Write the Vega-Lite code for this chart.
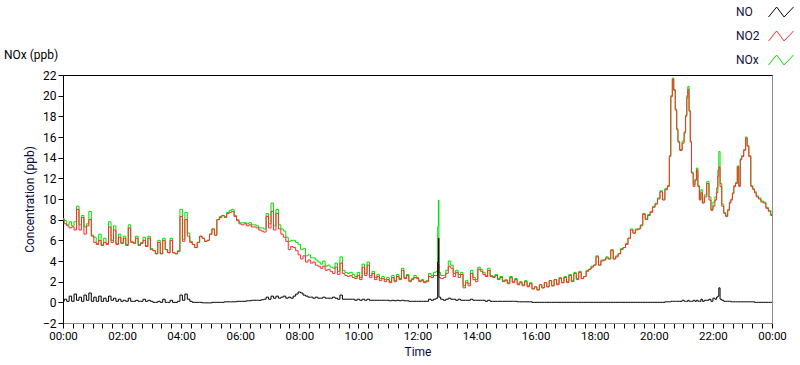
{
"$schema":"https://vega.github.io/schema/vega-lite/v6.json",
"width":709,"height":248,
"autosize":{"type":"none"},
"padding":{"left":63,"top":75,"right":28,"bottom":42},
"background":"white",
"title":{"text":"NOx (ppb)","anchor":"start","frame":"group","dx":-59,"dy":72,"offset":0,"fontSize":12,"fontWeight":"normal","color":"#000","baseline":"alphabetic"},
"data":{"values":[
{"m":0,"NO":0.1,"NO2":8.0,"NOx":8.1},{"m":5,"NO":0.3,"NO2":7.6,"NOx":7.9},{"m":10,"NO":0.1,"NO2":7.4,"NOx":7.5},{"m":15,"NO":0.6,"NO2":7.2,"NOx":7.8},{"m":20,"NO":0.1,"NO2":7.3,"NOx":7.4},{"m":25,"NO":0.8,"NO2":7.0,"NOx":7.8},{"m":30,"NO":0.2,"NO2":9.0,"NOx":9.3},{"m":35,"NO":0.5,"NO2":7.0,"NOx":7.5},{"m":40,"NO":0.1,"NO2":8.2,"NOx":8.4},{"m":45,"NO":0.7,"NO2":6.6,"NOx":7.3},{"m":50,"NO":0.2,"NO2":7.4,"NOx":7.6},{"m":55,"NO":0.9,"NO2":8.0,"NOx":8.8},
{"m":60,"NO":0.1,"NO2":6.4,"NOx":6.5},{"m":65,"NO":0.5,"NO2":5.8,"NOx":6.3},{"m":70,"NO":0.1,"NO2":5.6,"NOx":5.7},{"m":75,"NO":0.6,"NO2":6.0,"NOx":6.6},{"m":80,"NO":0.1,"NO2":5.5,"NOx":5.6},{"m":85,"NO":0.4,"NO2":5.8,"NOx":6.2},{"m":90,"NO":0.1,"NO2":5.6,"NOx":5.7},{"m":95,"NO":0.6,"NO2":7.3,"NOx":7.8},{"m":100,"NO":0.2,"NO2":5.8,"NOx":6.0},{"m":105,"NO":0.4,"NO2":7.0,"NOx":7.4},{"m":110,"NO":0.1,"NO2":5.6,"NOx":5.7},{"m":115,"NO":0.3,"NO2":6.3,"NOx":6.6},
{"m":120,"NO":0.1,"NO2":5.7,"NOx":5.8},{"m":125,"NO":0.2,"NO2":6.2,"NOx":6.4},{"m":130,"NO":0.1,"NO2":5.5,"NOx":5.6},{"m":135,"NO":0.4,"NO2":7.2,"NOx":7.5},{"m":140,"NO":0.1,"NO2":5.8,"NOx":5.9},{"m":145,"NO":0.1,"NO2":5.7,"NOx":5.8},{"m":150,"NO":0.2,"NO2":6.2,"NOx":6.4},{"m":155,"NO":0.1,"NO2":5.5,"NOx":5.6},{"m":160,"NO":0.1,"NO2":5.7,"NOx":5.8},{"m":165,"NO":0.3,"NO2":6.0,"NOx":6.3},{"m":170,"NO":0.1,"NO2":5.4,"NOx":5.5},{"m":175,"NO":0.2,"NO2":6.2,"NOx":6.4},
{"m":180,"NO":0.1,"NO2":5.1,"NOx":5.2},{"m":185,"NO":0.0,"NO2":5.0,"NOx":5.0},{"m":190,"NO":0.0,"NO2":4.7,"NOx":4.7},{"m":195,"NO":0.1,"NO2":5.8,"NOx":6.0},{"m":200,"NO":0.0,"NO2":4.7,"NOx":4.7},{"m":205,"NO":0.3,"NO2":6.0,"NOx":6.2},{"m":210,"NO":0.0,"NO2":5.1,"NOx":5.1},{"m":215,"NO":0.0,"NO2":4.8,"NOx":4.8},{"m":220,"NO":0.2,"NO2":6.0,"NOx":6.2},{"m":225,"NO":0.0,"NO2":4.8,"NOx":4.8},{"m":230,"NO":0.0,"NO2":4.7,"NOx":4.7},{"m":235,"NO":0.1,"NO2":4.9,"NOx":5.0},
{"m":240,"NO":0.7,"NO2":8.3,"NOx":9.0},{"m":245,"NO":0.2,"NO2":5.9,"NOx":6.1},{"m":250,"NO":0.8,"NO2":8.0,"NOx":8.7},{"m":255,"NO":0.3,"NO2":6.4,"NOx":6.7},{"m":260,"NO":0.1,"NO2":5.8,"NOx":5.9},{"m":265,"NO":0.0,"NO2":5.6,"NOx":5.6},{"m":270,"NO":0.0,"NO2":5.3,"NOx":5.3},{"m":275,"NO":0.0,"NO2":5.8,"NOx":5.8},{"m":280,"NO":0.0,"NO2":6.4,"NOx":6.4},{"m":285,"NO":-0.05,"NO2":6.2,"NOx":6.2},{"m":290,"NO":-0.05,"NO2":5.9,"NOx":5.9},{"m":295,"NO":-0.05,"NO2":6.0,"NOx":6.0},
{"m":300,"NO":-0.05,"NO2":6.6,"NOx":6.6},{"m":305,"NO":0.0,"NO2":7.1,"NOx":7.1},{"m":310,"NO":0.0,"NO2":6.5,"NOx":6.5},{"m":315,"NO":0.0,"NO2":8.0,"NOx":8.0},{"m":320,"NO":0.0,"NO2":8.2,"NOx":8.3},{"m":325,"NO":0.0,"NO2":8.4,"NOx":8.4},{"m":330,"NO":0.05,"NO2":8.2,"NOx":8.3},{"m":335,"NO":0.05,"NO2":8.6,"NOx":8.7},{"m":340,"NO":0.05,"NO2":8.7,"NOx":8.9},{"m":345,"NO":0.05,"NO2":8.8,"NOx":9.0},{"m":350,"NO":0.05,"NO2":8.3,"NOx":8.4},{"m":355,"NO":0.1,"NO2":7.9,"NOx":8.0},
{"m":360,"NO":0.1,"NO2":7.6,"NOx":7.7},{"m":365,"NO":0.1,"NO2":7.5,"NOx":7.7},{"m":370,"NO":0.1,"NO2":7.6,"NOx":7.7},{"m":375,"NO":0.15,"NO2":7.4,"NOx":7.6},{"m":380,"NO":0.15,"NO2":7.5,"NOx":7.7},{"m":385,"NO":0.2,"NO2":7.3,"NOx":7.5},{"m":390,"NO":0.2,"NO2":7.3,"NOx":7.5},{"m":395,"NO":0.2,"NO2":7.2,"NOx":7.4},{"m":400,"NO":0.2,"NO2":7.0,"NOx":7.2},{"m":405,"NO":0.25,"NO2":6.9,"NOx":7.2},{"m":410,"NO":0.3,"NO2":6.8,"NOx":7.1},{"m":415,"NO":0.5,"NO2":8.3,"NOx":8.6},
{"m":420,"NO":0.3,"NO2":7.2,"NOx":7.6},{"m":425,"NO":0.6,"NO2":8.8,"NOx":9.6},{"m":430,"NO":0.4,"NO2":7.0,"NOx":7.4},{"m":435,"NO":0.6,"NO2":8.6,"NOx":9.0},{"m":440,"NO":0.4,"NO2":7.1,"NOx":7.5},{"m":445,"NO":0.5,"NO2":6.6,"NOx":7.1},{"m":450,"NO":0.6,"NO2":6.3,"NOx":6.9},{"m":455,"NO":0.4,"NO2":5.9,"NOx":6.3},{"m":460,"NO":0.5,"NO2":5.1,"NOx":5.9},{"m":465,"NO":0.4,"NO2":5.4,"NOx":6.0},{"m":470,"NO":0.6,"NO2":5.3,"NOx":6.0},{"m":475,"NO":0.8,"NO2":5.0,"NOx":5.8},
{"m":480,"NO":1.0,"NO2":4.6,"NOx":5.6},{"m":485,"NO":0.9,"NO2":4.2,"NOx":5.1},{"m":490,"NO":0.7,"NO2":4.5,"NOx":5.2},{"m":495,"NO":0.6,"NO2":3.9,"NOx":4.5},{"m":500,"NO":0.5,"NO2":4.1,"NOx":4.6},{"m":505,"NO":0.5,"NO2":3.8,"NOx":4.3},{"m":510,"NO":0.4,"NO2":3.9,"NOx":4.3},{"m":515,"NO":0.5,"NO2":3.6,"NOx":4.1},{"m":520,"NO":0.4,"NO2":3.5,"NOx":3.9},{"m":525,"NO":0.4,"NO2":3.3,"NOx":3.7},{"m":530,"NO":0.5,"NO2":3.5,"NOx":4.0},{"m":535,"NO":0.4,"NO2":3.1,"NOx":3.5},
{"m":540,"NO":0.4,"NO2":3.2,"NOx":3.6},{"m":545,"NO":0.4,"NO2":3.0,"NOx":3.4},{"m":550,"NO":0.5,"NO2":2.8,"NOx":3.3},{"m":555,"NO":0.4,"NO2":3.4,"NOx":3.8},{"m":560,"NO":0.3,"NO2":2.7,"NOx":3.0},{"m":565,"NO":0.7,"NO2":3.8,"NOx":4.4},{"m":570,"NO":0.3,"NO2":2.8,"NOx":3.1},{"m":575,"NO":0.3,"NO2":2.6,"NOx":2.9},{"m":580,"NO":0.3,"NO2":2.5,"NOx":2.8},{"m":585,"NO":0.3,"NO2":2.6,"NOx":2.9},{"m":590,"NO":0.3,"NO2":2.4,"NOx":2.7},{"m":595,"NO":0.2,"NO2":2.3,"NOx":2.5},
{"m":600,"NO":0.3,"NO2":2.6,"NOx":2.9},{"m":605,"NO":0.2,"NO2":2.2,"NOx":2.4},{"m":610,"NO":0.3,"NO2":3.4,"NOx":3.7},{"m":615,"NO":0.2,"NO2":2.6,"NOx":2.8},{"m":620,"NO":0.3,"NO2":3.6,"NOx":3.9},{"m":625,"NO":0.2,"NO2":2.4,"NOx":2.6},{"m":630,"NO":0.2,"NO2":2.8,"NOx":3.0},{"m":635,"NO":0.2,"NO2":2.2,"NOx":2.4},{"m":640,"NO":0.2,"NO2":2.5,"NOx":2.7},{"m":645,"NO":0.2,"NO2":2.1,"NOx":2.3},{"m":650,"NO":0.2,"NO2":2.3,"NOx":2.5},{"m":655,"NO":0.2,"NO2":2.0,"NOx":2.2},
{"m":660,"NO":0.2,"NO2":2.2,"NOx":2.4},{"m":665,"NO":0.15,"NO2":1.9,"NOx":2.0},{"m":670,"NO":0.2,"NO2":2.4,"NOx":2.6},{"m":675,"NO":0.15,"NO2":2.0,"NOx":2.1},{"m":680,"NO":0.2,"NO2":2.5,"NOx":2.7},{"m":685,"NO":0.15,"NO2":2.2,"NOx":2.3},{"m":690,"NO":0.2,"NO2":3.1,"NOx":3.3},{"m":695,"NO":0.15,"NO2":2.3,"NOx":2.4},{"m":700,"NO":0.15,"NO2":2.6,"NOx":2.7},{"m":705,"NO":0.1,"NO2":2.0,"NOx":2.1},{"m":710,"NO":0.1,"NO2":2.2,"NOx":2.3},{"m":715,"NO":0.1,"NO2":2.4,"NOx":2.6},
{"m":720,"NO":0.1,"NO2":2.3,"NOx":2.4},{"m":725,"NO":0.1,"NO2":2.0,"NOx":2.1},{"m":730,"NO":0.1,"NO2":2.1,"NOx":2.2},{"m":735,"NO":0.1,"NO2":1.9,"NOx":2.0},{"m":740,"NO":0.1,"NO2":2.0,"NOx":2.1},{"m":745,"NO":0.3,"NO2":2.5,"NOx":2.8},{"m":750,"NO":0.2,"NO2":2.4,"NOx":2.6},{"m":755,"NO":0.3,"NO2":2.6,"NOx":2.9},{"m":760,"NO":0.4,"NO2":2.6,"NOx":3.0},{"m":762,"NO":3.9,"NO2":3.4,"NOx":7.3},{"m":763,"NO":6.2,"NO2":3.7,"NOx":9.9},{"m":764,"NO":0.5,"NO2":2.4,"NOx":2.9},{"m":770,"NO":0.3,"NO2":2.3,"NOx":2.6},{"m":775,"NO":0.2,"NO2":2.4,"NOx":2.6},
{"m":780,"NO":0.3,"NO2":2.8,"NOx":3.1},{"m":785,"NO":0.4,"NO2":3.5,"NOx":4.0},{"m":790,"NO":0.3,"NO2":3.3,"NOx":3.6},{"m":795,"NO":0.3,"NO2":2.5,"NOx":2.8},{"m":800,"NO":0.2,"NO2":2.9,"NOx":3.1},{"m":805,"NO":0.3,"NO2":2.4,"NOx":2.7},{"m":810,"NO":0.2,"NO2":2.7,"NOx":2.9},{"m":815,"NO":0.2,"NO2":1.4,"NOx":1.6},{"m":820,"NO":0.2,"NO2":1.9,"NOx":2.1},{"m":825,"NO":0.2,"NO2":1.6,"NOx":1.8},{"m":830,"NO":0.3,"NO2":2.8,"NOx":3.1},{"m":835,"NO":0.2,"NO2":2.2,"NOx":2.4},
{"m":840,"NO":0.2,"NO2":2.0,"NOx":2.2},{"m":845,"NO":0.2,"NO2":3.2,"NOx":3.4},{"m":850,"NO":0.2,"NO2":3.0,"NOx":3.2},{"m":855,"NO":0.2,"NO2":2.7,"NOx":2.9},{"m":860,"NO":0.1,"NO2":2.5,"NOx":2.6},{"m":865,"NO":0.2,"NO2":3.1,"NOx":3.3},{"m":870,"NO":0.1,"NO2":2.5,"NOx":2.6},{"m":875,"NO":0.1,"NO2":2.4,"NOx":2.5},{"m":880,"NO":0.1,"NO2":2.6,"NOx":2.7},{"m":885,"NO":0.1,"NO2":2.2,"NOx":2.3},{"m":890,"NO":0.1,"NO2":2.4,"NOx":2.5},{"m":895,"NO":0.1,"NO2":2.0,"NOx":2.1},
{"m":900,"NO":0.1,"NO2":2.1,"NOx":2.2},{"m":905,"NO":0.1,"NO2":1.8,"NOx":1.9},{"m":910,"NO":0.1,"NO2":2.4,"NOx":2.5},{"m":915,"NO":0.1,"NO2":1.9,"NOx":2.0},{"m":920,"NO":0.1,"NO2":2.2,"NOx":2.3},{"m":925,"NO":0.05,"NO2":1.7,"NOx":1.8},{"m":930,"NO":0.05,"NO2":1.9,"NOx":2.0},{"m":935,"NO":0.05,"NO2":1.6,"NOx":1.7},{"m":940,"NO":0.05,"NO2":2.0,"NOx":2.1},{"m":945,"NO":0.05,"NO2":1.5,"NOx":1.6},{"m":950,"NO":0.05,"NO2":1.8,"NOx":1.9},{"m":955,"NO":0.0,"NO2":1.3,"NOx":1.3},
{"m":960,"NO":0.0,"NO2":1.5,"NOx":1.5},{"m":965,"NO":0.0,"NO2":1.2,"NOx":1.2},{"m":970,"NO":0.0,"NO2":1.7,"NOx":1.7},{"m":975,"NO":0.0,"NO2":1.4,"NOx":1.4},{"m":980,"NO":0.0,"NO2":1.9,"NOx":1.9},{"m":985,"NO":0.0,"NO2":1.5,"NOx":1.5},{"m":990,"NO":0.0,"NO2":2.1,"NOx":2.1},{"m":995,"NO":0.0,"NO2":1.6,"NOx":1.6},{"m":1000,"NO":0.0,"NO2":2.2,"NOx":2.2},{"m":1005,"NO":0.0,"NO2":1.7,"NOx":1.8},{"m":1010,"NO":0.0,"NO2":2.3,"NOx":2.4},{"m":1015,"NO":0.0,"NO2":1.9,"NOx":1.9},
{"m":1020,"NO":0.0,"NO2":2.4,"NOx":2.5},{"m":1025,"NO":0.0,"NO2":1.9,"NOx":2.0},{"m":1030,"NO":0.0,"NO2":2.6,"NOx":2.7},{"m":1035,"NO":0.0,"NO2":2.0,"NOx":2.1},{"m":1040,"NO":0.0,"NO2":2.8,"NOx":2.9},{"m":1045,"NO":0.0,"NO2":2.2,"NOx":2.3},{"m":1050,"NO":0.0,"NO2":2.9,"NOx":3.0},{"m":1055,"NO":0.0,"NO2":2.3,"NOx":2.3},{"m":1060,"NO":0.0,"NO2":2.5,"NOx":2.5},{"m":1065,"NO":0.0,"NO2":3.0,"NOx":3.1},{"m":1070,"NO":0.0,"NO2":3.2,"NOx":3.2},{"m":1075,"NO":0.0,"NO2":3.4,"NOx":3.5},
{"m":1080,"NO":0.0,"NO2":3.6,"NOx":3.6},{"m":1085,"NO":0.0,"NO2":4.4,"NOx":4.5},{"m":1090,"NO":0.0,"NO2":3.6,"NOx":3.6},{"m":1095,"NO":0.0,"NO2":4.0,"NOx":4.1},{"m":1100,"NO":0.0,"NO2":4.1,"NOx":4.1},{"m":1105,"NO":0.0,"NO2":4.3,"NOx":4.4},{"m":1110,"NO":0.0,"NO2":4.2,"NOx":4.2},{"m":1115,"NO":0.0,"NO2":5.0,"NOx":5.1},{"m":1120,"NO":0.0,"NO2":4.2,"NOx":4.2},{"m":1125,"NO":0.0,"NO2":4.4,"NOx":4.5},{"m":1130,"NO":0.0,"NO2":4.7,"NOx":4.7},{"m":1135,"NO":0.0,"NO2":5.1,"NOx":5.2},
{"m":1140,"NO":0.0,"NO2":5.3,"NOx":5.3},{"m":1145,"NO":0.0,"NO2":5.6,"NOx":5.7},{"m":1150,"NO":0.0,"NO2":6.2,"NOx":6.2},{"m":1155,"NO":0.0,"NO2":7.0,"NOx":7.1},{"m":1160,"NO":0.0,"NO2":6.7,"NOx":6.7},{"m":1165,"NO":0.0,"NO2":7.0,"NOx":7.1},{"m":1170,"NO":0.0,"NO2":7.1,"NOx":7.1},{"m":1175,"NO":0.0,"NO2":7.4,"NOx":7.5},{"m":1180,"NO":0.0,"NO2":8.5,"NOx":8.6},{"m":1185,"NO":0.0,"NO2":8.0,"NOx":8.1},{"m":1190,"NO":0.0,"NO2":8.4,"NOx":8.5},{"m":1195,"NO":0.0,"NO2":8.7,"NOx":8.8},
{"m":1200,"NO":0.0,"NO2":9.2,"NOx":9.3},{"m":1205,"NO":0.0,"NO2":9.5,"NOx":9.6},{"m":1210,"NO":0.0,"NO2":10.0,"NOx":10.1},{"m":1215,"NO":0.0,"NO2":10.7,"NOx":10.8},{"m":1220,"NO":0.0,"NO2":9.9,"NOx":10.0},{"m":1225,"NO":0.05,"NO2":10.9,"NOx":11.0},{"m":1230,"NO":0.05,"NO2":11.2,"NOx":11.3},{"m":1233,"NO":0.05,"NO2":14.1,"NOx":14.2},{"m":1236,"NO":0.1,"NO2":19.9,"NOx":20.0},{"m":1239,"NO":0.1,"NO2":21.6,"NOx":21.7},{"m":1242,"NO":0.1,"NO2":20.5,"NOx":20.6},{"m":1245,"NO":0.1,"NO2":18.6,"NOx":18.7},{"m":1248,"NO":0.1,"NO2":16.7,"NOx":16.8},{"m":1250,"NO":0.1,"NO2":15.5,"NOx":15.6},{"m":1255,"NO":0.1,"NO2":14.7,"NOx":14.8},
{"m":1260,"NO":0.2,"NO2":15.4,"NOx":15.6},{"m":1263,"NO":0.1,"NO2":16.4,"NOx":16.5},{"m":1266,"NO":0.1,"NO2":18.0,"NOx":18.1},{"m":1268,"NO":0.1,"NO2":19.8,"NOx":20.0},{"m":1270,"NO":0.2,"NO2":20.6,"NOx":20.9},{"m":1273,"NO":0.1,"NO2":18.5,"NOx":18.6},{"m":1275,"NO":0.1,"NO2":15.5,"NOx":15.6},{"m":1278,"NO":0.1,"NO2":12.5,"NOx":12.6},{"m":1282,"NO":0.2,"NO2":11.2,"NOx":11.4},{"m":1285,"NO":0.1,"NO2":11.8,"NOx":11.9},{"m":1288,"NO":0.2,"NO2":12.8,"NOx":13.0},{"m":1291,"NO":0.1,"NO2":11.2,"NOx":11.3},{"m":1294,"NO":0.1,"NO2":9.9,"NOx":10.0},{"m":1297,"NO":0.3,"NO2":10.6,"NOx":10.9},
{"m":1300,"NO":0.1,"NO2":9.6,"NOx":9.7},{"m":1305,"NO":0.2,"NO2":10.2,"NOx":10.4},{"m":1310,"NO":0.2,"NO2":11.5,"NOx":11.7},{"m":1314,"NO":0.3,"NO2":9.9,"NOx":10.2},{"m":1318,"NO":0.1,"NO2":8.9,"NOx":9.0},{"m":1322,"NO":0.4,"NO2":9.3,"NOx":9.7},{"m":1326,"NO":0.3,"NO2":9.9,"NOx":10.2},{"m":1329,"NO":0.5,"NO2":10.6,"NOx":11.1},{"m":1331,"NO":0.6,"NO2":12.2,"NOx":12.8},{"m":1333,"NO":1.4,"NO2":13.1,"NOx":14.6},{"m":1336,"NO":0.3,"NO2":11.2,"NOx":11.5},
{"m":1340,"NO":0.2,"NO2":9.3,"NOx":9.5},{"m":1344,"NO":0.1,"NO2":8.6,"NOx":8.7},{"m":1348,"NO":0.1,"NO2":8.3,"NOx":8.4},{"m":1352,"NO":0.1,"NO2":8.9,"NOx":9.0},{"m":1355,"NO":0.1,"NO2":9.6,"NOx":9.7},{"m":1358,"NO":0.05,"NO2":9.9,"NOx":10.0},{"m":1361,"NO":0.05,"NO2":10.5,"NOx":10.6},{"m":1364,"NO":0.05,"NO2":11.2,"NOx":11.3},{"m":1368,"NO":0.05,"NO2":11.5,"NOx":11.6},{"m":1371,"NO":0.05,"NO2":13.1,"NOx":13.2},{"m":1374,"NO":0.05,"NO2":11.2,"NOx":11.3},{"m":1377,"NO":0.05,"NO2":13.8,"NOx":13.9},
{"m":1380,"NO":0.05,"NO2":14.1,"NOx":14.2},{"m":1385,"NO":0.05,"NO2":14.7,"NOx":14.8},{"m":1388,"NO":0.05,"NO2":15.9,"NOx":16.0},{"m":1391,"NO":0.05,"NO2":15.1,"NOx":15.2},{"m":1395,"NO":0.05,"NO2":14.1,"NOx":14.2},{"m":1399,"NO":0.05,"NO2":11.2,"NOx":11.3},{"m":1403,"NO":0.05,"NO2":10.9,"NOx":11.0},{"m":1406,"NO":0.0,"NO2":10.6,"NOx":10.7},{"m":1410,"NO":0.0,"NO2":10.2,"NOx":10.3},{"m":1415,"NO":0.0,"NO2":10.0,"NOx":10.1},{"m":1420,"NO":0.0,"NO2":9.7,"NOx":9.8},{"m":1425,"NO":0.0,"NO2":9.6,"NOx":9.7},{"m":1430,"NO":0.0,"NO2":9.1,"NOx":9.2},{"m":1435,"NO":0.0,"NO2":8.8,"NOx":8.9},{"m":1440,"NO":0.0,"NO2":8.4,"NOx":8.5}
]},
"layer":[
{"mark":{"type":"line","interpolate":"step","strokeWidth":1},
 "encoding":{
  "x":{"field":"m","type":"quantitative","scale":{"domain":[0,1440],"nice":false,"zero":false},
       "axis":{"orient":"top","labels":false,"ticks":false,"title":null,"domainColor":"#000"}},
  "y":{"field":"NOx","type":"quantitative","scale":{"domain":[-2,22],"nice":false,"zero":false},"title":"Concentration (ppb)",
       "axis":{"values":[-2,0,2,4,6,8,10,12,14,16,18,20,22],"labelOverlap":false,"titlePadding":6,"labelFontSize":12}},
  "color":{"datum":"NOx","type":"nominal",
    "scale":{"domain":["NO","NO2","NOx"],"range":["#000000","#ff2a2a","#00e000"]},
    "legend":{"orient":"none","legendX":672,"legendY":-76,"title":null,"direction":"vertical",
      "symbolType":"M-1,0.4L-0.35,-0.4L0.25,0.4L1,-0.4","symbolSize":625,"symbolStrokeWidth":1,"symbolFillColor":"transparent",
      "symbolOffset":33,"labelOffset":-58,"labelFontSize":12,"labelColor":"#101040","rowPadding":4,"padding":0}}
 }},
{"mark":{"type":"line","interpolate":"step","strokeWidth":1},
 "encoding":{
  "x":{"field":"m","type":"quantitative",
       "axis":{"orient":"bottom","title":"Time","domainColor":"#8c8c8c",
         "values":[0,20,40,60,80,100,120,140,160,180,200,220,240,260,280,300,320,340,360,380,400,420,440,460,480,500,520,540,560,580,600,620,640,660,680,700,720,740,760,780,800,820,840,860,880,900,920,940,960,980,1000,1020,1040,1060,1080,1100,1120,1140,1160,1180,1200,1220,1240,1260,1280,1300,1320,1340,1360,1380,1400,1420,1440],
         "labelExpr":"datum.value % 120 == 0 ? utcFormat(datum.value*60000, '%H:%M') : ''",
         "labelFlush":false,"labelOverlap":false,"titlePadding":5}},
  "y":{"field":"NO2","type":"quantitative","title":"Concentration (ppb)",
       "axis":{"values":[-2,0,2,4,6,8,10,12,14,16,18,20,22],"labelOverlap":false,"titlePadding":6,"labelFontSize":12}},
  "color":{"datum":"NO2","type":"nominal"}
 }},
{"mark":{"type":"line","interpolate":"step","strokeWidth":1},
 "encoding":{
  "x":{"field":"m","type":"quantitative","axis":null},
  "y":{"field":"NO","type":"quantitative","title":"Concentration (ppb)",
       "axis":{"values":[-2,0,2,4,6,8,10,12,14,16,18,20,22],"labelOverlap":false,"titlePadding":6,"labelFontSize":12}},
  "color":{"datum":"NO","type":"nominal"}
 }}
],
"resolve":{"axis":{"x":"independent"}},
"config":{
 "font":"Roboto",
 "view":{"stroke":"#8c8c8c","strokeWidth":1},
 "axis":{"grid":false,"labelOverlap":false,"labelFontSize":11.5,"titleFontSize":12,"titleFontWeight":"normal","labelColor":"#000","titleColor":"#0b0b3b","tickColor":"#000","domainColor":"#000","tickSize":5,"labelPadding":2},
 "axisY":{"labelOverlap":false}
}
}
